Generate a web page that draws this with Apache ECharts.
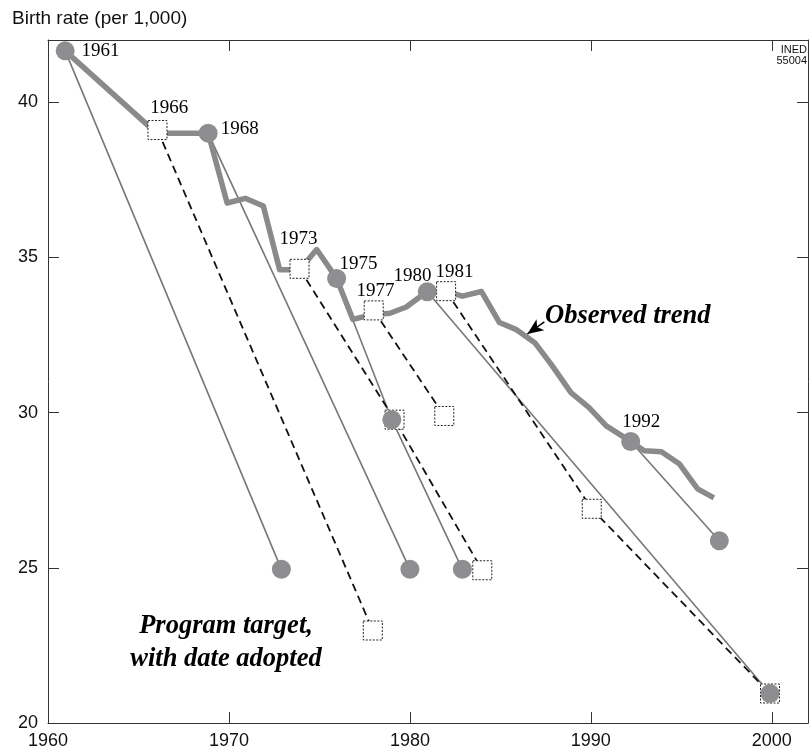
<!DOCTYPE html>
<html>
<head>
<meta charset="utf-8">
<title>Birth rate: program targets and observed trend</title>
<script src="https://cdn.jsdelivr.net/npm/echarts@6/dist/echarts.min.js"></script>
<style>
  html, body { margin: 0; padding: 0; background: #fff; }
  #chart { width: 812px; height: 751px; }
</style>
</head>
<body>
<div id="chart"></div>
<script>
// axis ticks
const xTicks = [1960, 1970, 1980, 1990, 2000]
const yTicks = [20, 25, 30, 35, 40]

// observed birth rate (per 1,000)
const obsYears = [1960.95, 1966.0, 1968.85, 1969.9, 1970.9, 1971.9, 1972.8, 1973.9, 1974.85, 1975.95,
  1976.85, 1977.9, 1978.9, 1979.8, 1980.95, 1982.0, 1982.9, 1983.95, 1984.95, 1985.85,
  1986.9, 1987.8, 1988.9, 1989.9, 1990.85, 1992.2, 1992.95, 1993.9, 1994.9, 1995.9, 1996.8]
const obsRates = [41.65, 39.0, 39.0, 36.75, 36.9, 36.65, 34.6, 34.6, 35.25, 34.32,
  33.0, 33.15, 33.2, 33.4, 33.9, 33.9, 33.75, 33.9, 32.9, 32.68,
  32.25, 31.56, 30.64, 30.16, 29.57, 29.07, 28.77, 28.74, 28.34, 27.54, 27.25]

// program targets: [year, rate] — adoption point first, then the targets
// solid lines, round markers
const prog1961 = [[1960.95, 41.65], [1972.9, 24.95]]
const prog1968 = [[1968.85, 39.0], [1980.0, 24.95]]
const prog1975 = [[1975.95, 34.32], [1979.0, 29.77], [1982.9, 24.95]]
const prog1980 = [[1980.96, 33.89], [1999.9, 20.95]]
const prog1992 = [[1992.2, 29.07], [1997.1, 25.87]]
// dashed lines, square markers
const prog1966 = [[1966.05, 39.1], [1977.95, 22.98]]
const prog1973 = [[1973.9, 34.63], [1979.15, 29.77], [1984.0, 24.92]]
const prog1977 = [[1978.0, 33.29], [1981.9, 29.89]]
const prog1981 = [[1982.0, 33.91], [1990.05, 26.9], [1999.9, 20.95]]

// year of adoption labels and where they sit (data units)
const yearLabels = ['1961', '1966', '1968', '1973', '1975', '1977', '1980', '1981', '1992']
const yearLabelX = [1962.9, 1966.7, 1970.6, 1973.85, 1977.16, 1978.1, 1980.14, 1982.46, 1992.78]
const yearLabelY = [41.63, 39.8, 39.12, 35.59, 34.8, 33.91, 34.41, 34.52, 29.7]

const solidProgs = [prog1961, prog1968, prog1975, prog1980, prog1992]
const dashedProgs = [prog1966, prog1973, prog1977, prog1981]

const sansFont = '"Liberation Sans", Arial, Helvetica, sans-serif'
const serifFont = '"Liberation Serif", "Times New Roman", serif'

const myChart = echarts.init(document.getElementById('chart'))

function progSeries (data, dashed) {
  return {
    type: 'line',
    data: data,
    symbol: 'none',
    silent: true,
    z: 2,
    lineStyle: dashed
      ? { color: '#111', width: 1.8, type: [8, 5] }
      : { color: '#777', width: 1.6 }
  }
}

function axisBase (isX) {
  return {
    type: 'value',
    min: isX ? 1960 : 20,
    max: isX ? 2002 : 42,
    interval: isX ? 10 : 5,
    splitLine: { show: false },
    axisLine: { show: true, onZero: false, lineStyle: { color: '#333', width: 1 } },
    axisTick: { show: true, inside: true, length: 11, lineStyle: { color: '#333', width: 1 } }
  }
}

const series = []
solidProgs.forEach(p => series.push(progSeries(p, false)))
dashedProgs.forEach(p => series.push(progSeries(p, true)))

// observed trend, thick grey
series.push({
  type: 'line',
  data: obsYears.map((y, i) => [y, obsRates[i]]),
  symbol: 'none',
  silent: true,
  z: 3,
  lineStyle: { color: '#8a8a8a', width: 5.5, join: 'round' },
  markLine: {
    silent: true,
    symbol: ['none', 'arrow'],
    symbolSize: [10, 16],
    label: { show: false },
    lineStyle: { color: '#000', type: 'solid', width: 1.5 },
    data: [[{ coord: [1987.43, 32.92] }, { coord: [1986.49, 32.53] }]]
  }
})

// square markers (dashed programs)
series.push({
  type: 'scatter',
  data: [].concat(...dashedProgs),
  symbol: 'rect',
  symbolSize: 19,
  silent: true,
  z: 4,
  itemStyle: { color: '#fff', opacity: 1, borderColor: '#222', borderWidth: 1, borderType: [2, 1.5] }
})

// round markers (solid programs)
series.push({
  type: 'scatter',
  data: [].concat(...solidProgs),
  symbol: 'circle',
  symbolSize: 19,
  silent: true,
  z: 5,
  itemStyle: { color: '#8e8e91', opacity: 1 }
})

// year labels
series.push({
  type: 'scatter',
  data: yearLabels.map((t, i) => [yearLabelX[i], yearLabelY[i], t]),
  symbolSize: 1,
  silent: true,
  z: 6,
  itemStyle: { color: 'rgba(0,0,0,0)', opacity: 1 },
  label: {
    show: true,
    position: 'inside',
    formatter: p => p.value[2],
    fontFamily: serifFont,
    fontSize: 19,
    color: '#000'
  }
})

const option = {
  animation: false,
  backgroundColor: '#fff',
  grid: { left: 48, right: 4, top: 40, bottom: 28 },
  xAxis: [
    Object.assign(axisBase(true), {
      position: 'bottom',
      axisLabel: {
        margin: 9,
        fontFamily: sansFont,
        fontSize: 18,
        color: '#111',
        formatter: v => xTicks.includes(v) ? String(v) : ''
      }
    }),
    Object.assign(axisBase(true), { position: 'top', axisLabel: { show: false } })
  ],
  yAxis: [
    Object.assign(axisBase(false), {
      position: 'left',
      axisLabel: {
        margin: 10,
        fontFamily: sansFont,
        fontSize: 18,
        color: '#111',
        formatter: v => yTicks.includes(v) ? String(v) : ''
      }
    }),
    Object.assign(axisBase(false), { position: 'right', axisLabel: { show: false } })
  ],
  graphic: [
    {
      type: 'text', x: 12, y: 9, silent: true,
      style: { text: 'Birth rate (per 1,000)', font: '19px ' + sansFont, fill: '#111' }
    },
    {
      type: 'text', x: 807, y: 44, silent: true,
      style: { text: 'INED\n55004', font: '11px ' + sansFont, fill: '#111', align: 'right', lineHeight: 11 }
    },
    {
      type: 'text', x: 545, y: 303, silent: true,
      style: { text: 'Observed trend', font: 'italic bold 26.5px ' + serifFont, fill: '#000' }
    },
    {
      type: 'text', x: 226, y: 643, silent: true,
      style: {
        text: 'Program target,\nwith date adopted',
        font: 'italic bold 26.5px ' + serifFont,
        fill: '#000',
        align: 'center',
        verticalAlign: 'middle',
        lineHeight: 33
      }
    }
  ],
  series: series
}

myChart.setOption(option)
</script>
</body>
</html>
